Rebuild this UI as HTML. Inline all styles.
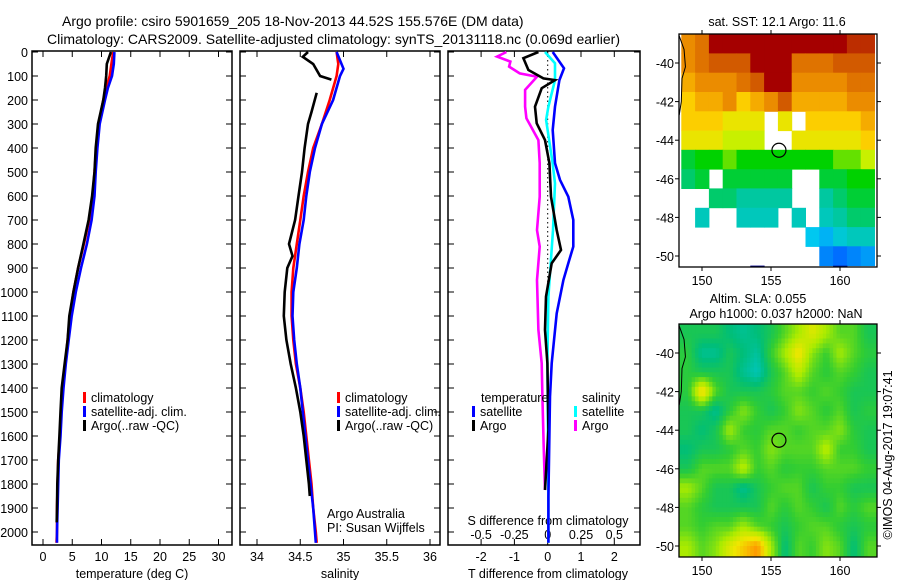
<!DOCTYPE html>
<html><head><meta charset="utf-8"><style>
body{margin:0;background:#fff}
svg{display:block;font-family:"Liberation Sans",sans-serif}
text{font-size:13px;fill:#000}
.t{font-size:12.5px}
</style></head><body>
<svg id="s" width="900" height="580" viewBox="0 0 900 580" xmlns="http://www.w3.org/2000/svg">
<text x="62" y="26" style="font-size:14px">Argo profile: csiro 5901659_205 18-Nov-2013 44.52S 155.576E (DM data)</text>
<text x="47" y="44" style="font-size:14px">Climatology: CARS2009. Satellite-adjusted climatology: synTS_20131118.nc (0.069d earlier)</text>
<g id="g"></g>
</svg>
<script>
// ---- profile data (depth in dbar) ----
const depthTicks=[0,100,200,300,400,500,600,700,800,900,1000,1100,1200,1300,1400,1500,1600,1700,1800,1900,2000];
const tempTicks=[0,5,10,15,20,25,30];
const salTicks=[34,34.5,35,35.5,36];
const salTickLabels=["34","34.5","35","35.5","36"];
const tdiffTicks=[-2,-1,0,1,2];
const sdiffTicks=[-0.5,-0.25,0,0.25,0.5];
const sdiffLabels=["-0.5","-0.25","0","0.25","0.5"];

const argoTDepth=[0,50,100,150,200,300,400,500,600,700,800,900,1000,1100,1200,1300,1400,1500,1600,1700,1800,1900,1960];
const argoT=[11.6,10.9,10.8,10.6,10.3,9.4,9.0,8.8,8.4,7.8,6.9,6.0,5.2,4.5,4.2,3.7,3.2,3.0,2.8,2.6,2.45,2.4,2.35];
const climTDepth=[0,50,100,150,200,300,400,500,600,700,800,900,1000,1100,1200,1300,1400,1500,1600,1700,1800,1900,2000,2045];
const climT=[12.0,11.7,11.4,10.8,10.3,9.5,9.1,8.8,8.5,7.9,7.0,6.0,5.2,4.6,4.2,3.8,3.4,3.1,2.9,2.6,2.5,2.4,2.4,2.3];
const satT=[12.2,12.1,11.8,11.1,10.6,9.7,9.3,9.0,8.8,8.3,7.5,6.5,5.6,4.9,4.4,3.9,3.5,3.2,3.0,2.7,2.6,2.5,2.4,2.4];

const argoSDepth=[0,20,50,100,115];
const argoS=[34.59,34.53,34.65,34.73,34.86];
const argoSDepth2=[170,250,300,400,500,600,700,800,850,900,1000,1100,1200,1300,1400,1500,1600,1700,1800,1850];
const argoS2=[34.69,34.63,34.59,34.55,34.52,34.48,34.44,34.37,34.41,34.35,34.32,34.31,34.34,34.39,34.45,34.5,34.54,34.57,34.6,34.61];
const climSDepth=[0,50,100,200,300,400,500,600,700,800,900,1000,1100,1200,1300,1400,1500,1600,1700,1800,1900,2000,2045];
const climS=[34.92,34.94,34.92,34.84,34.75,34.65,34.59,34.54,34.5,34.46,34.42,34.4,34.4,34.42,34.45,34.5,34.54,34.57,34.6,34.63,34.65,34.68,34.69];
const satSDepth=[0,70,100,200,300,400,500,600,700,800,900,1000,1100,1200,1300,1400,1500,1600,1700,1800,1900,2000,2045];
const satS=[34.92,35.0,34.96,34.88,34.75,34.67,34.61,34.57,34.54,34.49,34.46,34.42,34.41,34.43,34.46,34.5,34.53,34.56,34.59,34.62,34.65,34.67,34.68];

const satTdDepth=[0,68,117,228,325,463,533,603,700,811,880,950,1089,1297,1436,1853,2045];
const satTd=[0.15,0.49,0.35,0.22,0.15,0.22,0.37,0.62,0.77,0.77,0.62,0.47,0.27,0.12,0.07,0.02,0.02];
const argoTdDepth=[0,26,75,110,117,151,228,297,367,463,603,742,825,880,1019,1158,1297,1575,1825];
const argoTd=[-0.28,-0.73,-0.58,-0.13,0.22,-0.18,-0.38,-0.33,-0.08,0.05,0.1,0.27,0.4,0.12,-0.05,-0.08,-0.01,0.02,-0.08];
const satSdDepth=[0,47,117,228,283,463,547,742,1019,1297,1853,2045];
const satSd=[-0.02,0.055,0.055,0.005,-0.012,0.037,0.055,0.04,0.005,-0.002,0.005,0.005];
const argoSdDepth=[0,19,40,61,89,103,158,228,276,367,463,603,742,811,950,1158,1297,1436,1644,1825];
const argoSd=[-0.31,-0.38,-0.28,-0.29,-0.21,-0.08,-0.17,-0.17,-0.16,-0.07,-0.06,-0.06,-0.08,-0.06,-0.08,-0.07,-0.045,-0.04,-0.03,-0.02];

// ---- map data: rows lat -39..-51, cols lon 149..162 ----
const mapLats=[-39,-40,-41,-42,-43,-44,-45,-46,-47,-48,-49,-50,-51];
const mapLons=[149,150,151,152,153,154,155,156,157,158,159,160,161,162];
const N=NaN;
const sst=[
[14,14.5,16,16,16,16,16,16,16,16,16,16,15.5,15.5],
[14,14.5,15,15,15,16,16,16,14.5,14.5,14.5,15,15,15],
[13.5,14,14,14,14.5,15,16,16,14,14,14,14,14.5,14.5],
[13,13.5,13.5,14,13,13.5,14,15,13.5,13.5,13.5,13.5,14,14],
[13,13,13,12.5,12.5,12.5,N,12.5,N,13,13,13,13,13.5],
[12.5,12.5,12.5,12,12,12,N,N,12.5,12.5,12.5,12.5,12.5,13],
[10.5,11,11,11.5,11,11,11,11,11,11,11,11.5,11.5,12],
[10,10.5,N,10.5,10.5,10.5,10.5,10.5,N,N,10.5,10.5,11,11],
[N,N,10,10,9.5,9.5,9.5,9.5,N,N,9.5,10,10.5,10.5],
[N,9,N,N,9,9,9,N,9,N,9,9.5,10,10],
[N,N,N,N,N,N,N,N,N,8,7.5,8.5,9,9],
[N,N,N,N,N,N,N,N,N,N,6.5,6,6.5,7],
[N,N,N,N,N,4,N,N,N,N,N,4.5,N,N]];
const sla=[
[0,0,0,-0.03,-0.05,-0.03,0,0.05,0.1,0.15,0.1,0.05,0.05,0],
[0.02,-0.05,-0.05,0,-0.03,-0.06,0.03,0.1,0.18,0.08,0.03,0.1,0.05,0.02],
[0.02,0,0,0,-0.05,-0.08,0,0.05,0.12,0.05,0.02,0.05,0.03,0],
[0.02,0.2,0.05,0,0,0,0.02,0.05,0.05,0.03,0.05,0.03,0,0],
[0,0,-0.05,0.02,0.08,0.03,0,0.03,0.08,0.05,0.02,0.05,0,0.02],
[0,-0.03,0,0.1,0.03,0.02,0.05,0.05,0.03,0.05,0.05,0.08,0.02,0],
[-0.03,0,0,0.02,0.05,0.03,0.08,0.05,0.05,0.05,0.12,0.03,0.03,0],
[0,0.05,0.05,0.05,0.12,0.03,0.05,0.02,0.03,0.03,0.05,0.05,0.05,0.03],
[0.1,0.05,0,0,-0.05,0,0.03,0.05,0.05,0,0.03,0.03,0,0],
[0.05,0.02,0,0,0,0,0.05,0.02,0.05,0.03,0,0.05,0.02,0.05],
[0.05,0.03,0.05,0.05,0.1,0.05,0.03,0,0.03,0.05,0.05,0.02,0,0.02],
[0.1,0.05,0.08,0.15,0.2,0.25,0.1,-0.03,0.05,0.03,0.08,0.05,-0.03,0.05],
[0.1,0.05,0.08,0.15,0.2,0.25,0.1,-0.03,0.05,0.03,0.08,0.05,-0.03,0.05]];
const latTicks=[-40,-42,-44,-46,-48,-50];
const lonTicks=[150,155,160];
const argoLon=155.576, argoLat=-44.52;

// ---- drawing ----
const NS='http://www.w3.org/2000/svg';
const G=document.getElementById('g');
function mk(tag,attrs,parent){const e=document.createElementNS(NS,tag);for(const k in attrs)e.setAttribute(k,attrs[k]);(parent||G).appendChild(e);return e;}
function txt(x,y,s,anchor,cls,name){const e=mk('text',{x:x,y:y,'text-anchor':anchor||'start',class:cls||'t'});e.textContent=s;

return e;}
const Y0=51,Y1=545;
const yD=d=>52+d*0.24;
const xT=v=>43+v*5.85;
const xS=v=>257+(v-34)*86.5;
const xTd=v=>547.7+v*33.3;
const xSd=v=>547.7+v*4*33.3;

function panel(x0,x1,name){const r=mk('rect',{x:x0,y:Y0,width:x1-x0,height:Y1-Y0,fill:'none',stroke:'#000','stroke-width':1.5});


depthTicks.forEach(d=>{mk('line',{x1:x0,x2:x0+6,y1:yD(d),y2:yD(d),stroke:'#000'});mk('line',{x1:x1-6,x2:x1,y1:yD(d),y2:yD(d),stroke:'#000'});});}
function xticks(vals,f,labels,x0,x1,ly,name){vals.forEach((v,i)=>{const x=f(v);mk('line',{x1:x,x2:x,y1:Y1,y2:Y1-6,stroke:'#000'});mk('line',{x1:x,x2:x,y1:Y0,y2:Y0+6,stroke:'#000'});
if(labels)txt(x,ly,labels[i],'middle','t',name);});}
function line(ds,vs,fx,color,name){const pts=ds.map((d,i)=>fx(vs[i]).toFixed(1)+','+yD(d).toFixed(1)).join(' ');
const p=mk('polyline',{points:pts,fill:'none',stroke:color,'stroke-width':2.6,'stroke-linejoin':'miter'});

}

// Panel 1
panel(32,232,'temperature-panel');
depthTicks.forEach(d=>txt(28,yD(d)+5,String(d),'end','t','depth-tick-label'));
xticks(tempTicks,xT,tempTicks.map(String),32,232,561,'temp-tick-label');
txt(132,578,'temperature (deg C)','middle','t','temperature-axis-title');
line(climTDepth,climT,xT,'#f00','temp-climatology-line');
line(climTDepth,satT,xT,'#00f','temp-satellite-line');
line(argoTDepth,argoT,xT,'#000','temp-argo-line');
function leg(x,y,c,s,name){mk('rect',{x:x,y:y-10,width:3,height:11,fill:c});txt(x+8,y,s,'start','t',name);}
leg(83,402,'#f00','climatology','legend-climatology');
leg(83,416,'#00f','satellite-adj. clim.','legend-satellite-adj');
leg(83,430,'#000','Argo(..raw -QC)','legend-argo');

// Panel 2
panel(240,440,'salinity-panel');
xticks(salTicks,xS,salTickLabels,240,440,561,'salinity-tick-label');
txt(340,578,'salinity','middle','t','salinity-axis-title');
line(climSDepth,climS,xS,'#f00','sal-climatology-line');
line(satSDepth,satS,xS,'#00f','sal-satellite-line');
line(argoSDepth,argoS,xS,'#000','sal-argo-line-upper');
line(argoSDepth2,argoS2,xS,'#000','sal-argo-line');
leg(337,402,'#f00','climatology','legend2-climatology');
leg(337,416,'#00f','satellite-adj. clim.','legend2-satellite-adj');
leg(337,430,'#000','Argo(..raw -QC)','legend2-argo');
txt(327,518,'Argo Australia','start','t','credit-argo-australia');
txt(327,532,'PI: Susan Wijffels','start','t','credit-pi');

// Panel 3
panel(448,640,'difference-panel');
mk('line',{x1:xTd(0),x2:xTd(0),y1:Y0,y2:300,stroke:'#000','stroke-dasharray':'1.5,3'});
xticks(tdiffTicks,xTd,tdiffTicks.map(String),448,640,561,'tdiff-tick-label');
sdiffTicks.forEach((v,i)=>txt(xSd(v),539,sdiffLabels[i],'middle','t','sdiff-tick-label'));
txt(548,525,'S difference from climatology','middle','t','sdiff-axis-title');
txt(548,578,'T difference from climatology','middle','t','tdiff-axis-title');
line(argoSdDepth,argoSd,xSd,'#f0f','sdiff-argo-line');
line(satSdDepth,satSd,xSd,'#0ff','sdiff-satellite-line');
line(argoTdDepth,argoTd,xTd,'#000','tdiff-argo-line');
line(satTdDepth,satTd,xTd,'#00f','tdiff-satellite-line');
txt(481,402,'temperature','start','t','legend3-temperature-heading');
leg(472,416,'#00f','satellite','legend3-t-satellite');
leg(472,430,'#000','Argo','legend3-t-argo');
txt(582,402,'salinity','start','t','legend3-salinity-heading');
leg(574,416,'#0ff','satellite','legend3-s-satellite');
leg(574,430,'#f0f','Argo','legend3-s-argo');

// Maps
function interp(stops,v){if(v<=stops[0][0])return 'rgb('+stops[0][1].join(',')+')';for(let i=1;i<stops.length;i++){if(v<=stops[i][0]){const a=stops[i-1],b=stops[i],t=(v-a[0])/(b[0]-a[0]);return 'rgb('+a[1].map((c,k)=>Math.round(c+(b[1][k]-c)*t)).join(',')+')';}}return 'rgb('+stops[stops.length-1][1].join(',')+')';}
const sstStops=[[4,[0,0,140]],[6,[0,110,255]],[8,[0,200,240]],[9.5,[0,200,160]],[11,[0,210,0]],[12,[200,240,0]],[12.8,[255,220,0]],[13.8,[240,150,0]],[15,[210,90,0]],[16,[165,0,0]]];
const slaStops=[[-0.1,[0,200,210]],[-0.03,[0,190,120]],[0.03,[50,205,50]],[0.1,[170,235,0]],[0.17,[240,230,0]],[0.25,[255,150,0]]];
function val(data,r,c){r=Math.max(0,Math.min(data.length-1,r));c=Math.max(0,Math.min(data[0].length-1,c));return data[r][c];}
function map(y0,y1,lat40,lat50,data,stops,name,smooth){
  const X0=679,X1=877;const xL=lon=>702+(lon-150)*13.8;const yL=lat=>lat40+(lat+40)*(lat50-lat40)/(-10);
  const cp='clip'+name;const d=mk('clipPath',{id:cp});mk('rect',{x:X0,y:y0,width:X1-X0,height:y1-y0},d);
  const g=mk('g',{'clip-path':'url(#'+cp+')'});
  
  
  if(!smooth){
  mapLats.forEach((la,r)=>mapLons.forEach((lo,c)=>{const v=data[r][c];if(isNaN(v))return;
    const x=xL(lo-0.5),y=yL(la+0.5);mk('rect',{x:x.toFixed(1),y:y.toFixed(1),width:(13.8+0.5).toFixed(1),height:(yL(la-0.5)-y+0.5).toFixed(1),fill:interp(stops,v)},g);}));
  } else {
    const sub=4,st=1/sub;
    for(let la=-38.5;la>-51;la-=st){for(let lo=148.25;lo<163;lo+=st){
      const lc=la-st/2,oc=lo+st/2;
      const fr=(mapLats[0]-lc),fc=(oc-mapLons[0]);const r0=Math.floor(fr),c0=Math.floor(fc),tr=fr-r0,tc=fc-c0;
      const v=(1-tr)*((1-tc)*val(data,r0,c0)+tc*val(data,r0,c0+1))+tr*((1-tc)*val(data,r0+1,c0)+tc*val(data,r0+1,c0+1));
      const x=xL(lo),y=yL(la);mk('rect',{x:x.toFixed(1),y:y.toFixed(1),width:(13.8*st+0.5).toFixed(1),height:(yL(la-st)-y+0.5).toFixed(1),fill:interp(stops,v)},g);
    }}
  }
  mk('path',{d:'M'+xL(148.35)+','+yL(-38.6)+' L'+xL(148.7)+','+yL(-39.3)+' L'+xL(148.8)+','+yL(-40.2)+' L'+xL(148.55)+','+yL(-40.8)+' L'+xL(148.5)+','+yL(-42)+' L'+xL(148.35)+','+yL(-42.7),fill:'none',stroke:'#000','stroke-width':1},g);
  const b=mk('rect',{x:X0,y:y0,width:X1-X0,height:y1-y0,fill:'none',stroke:'#000','stroke-width':1.3});
  
  
  latTicks.forEach(la=>{const y=yL(la);mk('line',{x1:X0-4,x2:X0,y1:y,y2:y,stroke:'#000'});mk('line',{x1:X1,x2:X1+4,y1:y,y2:y,stroke:'#000'});txt(X0-5,y+5,String(la),'end','t',name+'-lat-label');});
  lonTicks.forEach(lo=>{const x=xL(lo);mk('line',{x1:x,x2:x,y1:y1,y2:y1+4,stroke:'#000'});mk('line',{x1:x,x2:x,y1:y0-4,y2:y0,stroke:'#000'});txt(x,y1+18,String(lo),'middle','t',name+'-lon-label');});
  const c=mk('circle',{cx:xL(argoLon),cy:yL(argoLat),r:7,fill:'none',stroke:'#000','stroke-width':1.2});
  
  
}
map(34,267,63,256,sst,sstStops,'sst-map',false);
map(324,557,353,546,sla,slaStops,'sla-map',true);
txt(777,26,'sat. SST: 12.1 Argo: 11.6','middle','t','sst-map-title');
txt(758,303,'Altim. SLA: 0.055','middle','t','sla-map-title');
txt(776,318,'Argo h1000: 0.037 h2000: NaN','middle','t','sla-map-subtitle');
const w=txt(0,0,'©IMOS 04-Aug-2017 19:07:41','middle','t','timestamp');
w.setAttribute('transform','translate(892,455) rotate(-90)');
</script>
</body></html>
